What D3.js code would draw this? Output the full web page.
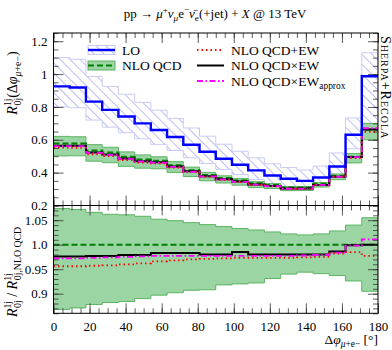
<!DOCTYPE html>
<html>
<head>
<meta charset="utf-8">
<script src="https://cdn.jsdelivr.net/npm/d3@7"></script>
<style>
  body { margin: 0; background: #fff; }
  text { font-family: "Liberation Serif", "DejaVu Serif", serif; fill: #000; }
</style>
</head>
<body>
<script>
// bin edges (degrees), 20 bins of 9 degrees
var edges = [0, 9, 18, 27, 36, 45, 54, 63, 72, 81, 90, 99, 108, 117, 126, 135, 144, 153, 162, 171, 180];

// LO and its scale band
var lo   = [0.925, 0.918, 0.832, 0.782, 0.742, 0.700, 0.660, 0.617, 0.570, 0.527, 0.485, 0.448, 0.414, 0.383, 0.363, 0.350, 0.370, 0.437, 0.631, 0.987];
var loHi = [1.100, 1.090, 0.985, 0.925, 0.877, 0.828, 0.780, 0.730, 0.672, 0.622, 0.573, 0.530, 0.490, 0.454, 0.431, 0.416, 0.440, 0.520, 0.733, 1.130];
var loLo = [0.800, 0.795, 0.720, 0.677, 0.643, 0.606, 0.572, 0.535, 0.490, 0.455, 0.420, 0.388, 0.358, 0.332, 0.314, 0.303, 0.320, 0.378, 0.545, 0.700];

// NLO QCD
var nlo = [0.578, 0.577, 0.535, 0.522, 0.496, 0.480, 0.472, 0.445, 0.415, 0.386, 0.367, 0.352, 0.335, 0.325, 0.309, 0.309, 0.332, 0.381, 0.496, 0.663];
// NLO QCD scale band, relative to NLO QCD
var nloHi = [1.074, 1.072, 1.066, 1.062, 1.061, 1.058, 1.052, 1.049, 1.045, 1.041, 1.037, 1.033, 1.030, 1.026, 1.022, 1.020, 1.022, 1.028, 1.040, 1.055];
var nloLo = [0.868, 0.871, 0.878, 0.882, 0.884, 0.890, 0.897, 0.902, 0.907, 0.908, 0.918, 0.920, 0.922, 0.931, 0.940, 0.944, 0.941, 0.937, 0.926, 0.905];

// ratios to NLO QCD
var rAdd    = [0.956, 0.956, 0.957, 0.958, 0.960, 0.962, 0.966, 0.968, 0.970, 0.971, 0.972, 0.973, 0.973, 0.973, 0.973, 0.974, 0.975, 0.982, 0.985, 0.977];
var rMul    = [0.976, 0.976, 0.977, 0.977, 0.979, 0.979, 0.983, 0.983, 0.983, 0.980, 0.980, 0.985, 0.980, 0.980, 0.980, 0.980, 0.980, 0.986, 0.999, 1.000];
var rApprox = [0.972, 0.972, 0.973, 0.974, 0.975, 0.976, 0.977, 0.977, 0.977, 0.977, 0.977, 0.977, 0.977, 0.977, 0.977, 0.978, 0.979, 0.984, 0.998, 1.011];

var xTicks = [0, 20, 40, 60, 80, 100, 120, 140, 160, 180];
var yTopTicks = [0.2, 0.4, 0.6, 0.8, 1.0, 1.2];
var yTopLabels = ["0.2", "0.4", "0.6", "0.8", "1", "1.2"];
var yBotTicks = [0.9, 0.95, 1.0, 1.05];
var yBotLabels = ["0.9", "0.95", "1.0", "1.05"];

var width = 392, height = 350;
var x0 = 53.5, x1 = 378;

var svg = d3.select("body").append("svg")
  .attr("width", width)
  .attr("height", height);

var x = d3.scaleLinear().domain([0, 180]).range([x0, x1]);
var yTop = d3.scaleLinear().domain([0.2, 1.25]).range([205.5, 33]);
var yBot = d3.scaleLinear().domain([0.86, 1.08]).range([313.3, 205.5]);

// step helpers
function steps(vals) {
  var pts = [];
  vals.forEach(function(v, i) { pts.push([edges[i], v]); pts.push([edges[i + 1], v]); });
  return pts;
}
function bandSteps(lo_, hi_) {
  var pts = [];
  lo_.forEach(function(v, i) {
    pts.push({ x: edges[i], a: v, b: hi_[i] });
    pts.push({ x: edges[i + 1], a: v, b: hi_[i] });
  });
  return pts;
}
function mult(a, b) { return a.map(function(v, i) { return v * b[i]; }); }

var defs = svg.append("defs");
var pat = defs.append("pattern")
  .attr("id", "hatch")
  .attr("patternUnits", "userSpaceOnUse")
  .attr("width", 7).attr("height", 7)
  .attr("patternTransform", "rotate(-45)");
pat.append("line")
  .attr("x1", 0).attr("y1", 0).attr("x2", 0).attr("y2", 7)
  .attr("stroke", "#a9aef0").attr("stroke-width", 1.6);

defs.append("clipPath").attr("id", "clipTop").append("rect")
  .attr("x", x0).attr("y", 33).attr("width", x1 - x0).attr("height", 205.5 - 33);
defs.append("clipPath").attr("id", "clipBot").append("rect")
  .attr("x", x0).attr("y", 205.5).attr("width", x1 - x0).attr("height", 313.3 - 205.5);

var bandFill = "#9bd5a3", bandStroke = "#5cb461";

// ---- upper panel ----
var gTop = svg.append("g").attr("clip-path", "url(#clipTop)");

function area(yS) {
  return d3.area().x(function(d) { return x(d.x); })
    .y0(function(d) { return yS(d.a); }).y1(function(d) { return yS(d.b); });
}
function line(yS) {
  return d3.line().x(function(d) { return x(d[0]); }).y(function(d) { return yS(d[1]); });
}

gTop.append("path")
  .attr("d", area(yTop)(bandSteps(loLo, loHi)))
  .attr("fill", "url(#hatch)")
  .attr("stroke", "#c9cbf6").attr("stroke-width", 1);

gTop.append("path")
  .attr("d", area(yTop)(bandSteps(mult(nlo, nloLo), mult(nlo, nloHi))))
  .attr("fill", bandFill)
  .attr("stroke", bandStroke).attr("stroke-width", 1);

var styles = {
  nlo:    { stroke: "#007f00", dash: "6,3", w: 2 },
  mul:    { stroke: "#000", dash: null, w: 2 },
  add:    { stroke: "#ff0000", dash: "1.5,3", w: 1.8 },
  approx: { stroke: "#ff00ff", dash: "6,2.5,1.5,2.5", w: 1.8 },
  lo:     { stroke: "#0000ff", dash: null, w: 2.4 }
};
function draw(g, yS, vals, st) {
  g.append("path")
    .attr("d", line(yS)(steps(vals)))
    .attr("fill", "none")
    .attr("stroke", st.stroke)
    .attr("stroke-width", st.w)
    .attr("stroke-dasharray", st.dash);
}
draw(gTop, yTop, nlo, styles.nlo);
draw(gTop, yTop, mult(nlo, rMul), styles.mul);
draw(gTop, yTop, mult(nlo, rAdd), styles.add);
draw(gTop, yTop, mult(nlo, rApprox), styles.approx);
draw(gTop, yTop, lo, styles.lo);

// ---- lower panel ----
var gBot = svg.append("g").attr("clip-path", "url(#clipBot)");
gBot.append("path")
  .attr("d", area(yBot)(bandSteps(nloLo, nloHi)))
  .attr("fill", bandFill)
  .attr("stroke", bandStroke).attr("stroke-width", 1);
draw(gBot, yBot, nlo.map(function() { return 1; }), styles.nlo);
draw(gBot, yBot, rMul, styles.mul);
draw(gBot, yBot, rAdd, styles.add);
draw(gBot, yBot, rApprox, styles.approx);

// ---- axes ----
var minorX = d3.range(0, 181, 5);
function frame(yS, yMin, yMax, minorY, majY, majLabels, showX) {
  var yA = yS(yMin), yB = yS(yMax);
  var g = svg.append("g");
  // left
  g.append("g").attr("transform", "translate(" + x0 + ",0)")
    .call(d3.axisLeft(yS).tickValues(minorY).tickSize(-5).tickFormat(""));
  g.append("g").attr("transform", "translate(" + x0 + ",0)")
    .call(d3.axisLeft(yS).tickValues(majY).tickSize(-10).tickPadding(6)
      .tickFormat(function(d, i) { return majLabels[i]; }));
  // right
  g.append("g").attr("transform", "translate(" + x1 + ",0)")
    .call(d3.axisRight(yS).tickValues(minorY).tickSize(-5).tickFormat(""));
  g.append("g").attr("transform", "translate(" + x1 + ",0)")
    .call(d3.axisRight(yS).tickValues(majY).tickSize(-10).tickFormat(""));
  // top and bottom
  g.append("g").attr("transform", "translate(0," + yB + ")")
    .call(d3.axisTop(x).tickValues(minorX).tickSize(-5).tickFormat(""));
  g.append("g").attr("transform", "translate(0," + yB + ")")
    .call(d3.axisTop(x).tickValues(xTicks).tickSize(-10).tickFormat(""));
  g.append("g").attr("transform", "translate(0," + yA + ")")
    .call(d3.axisBottom(x).tickValues(minorX).tickSize(-5).tickFormat(""));
  g.append("g").attr("transform", "translate(0," + yA + ")")
    .call(d3.axisBottom(x).tickValues(xTicks).tickSize(-10).tickPadding(8)
      .tickFormat(showX ? function(d) { return d; } : ""));
  g.selectAll(".domain").remove();
  g.selectAll(".tick line").attr("stroke", "#333").attr("stroke-width", 0.8);
  g.selectAll(".tick text").style("font-size", "13px").style("font-family", "Liberation Serif");
  g.append("rect").attr("x", x0).attr("y", yB).attr("width", x1 - x0).attr("height", yA - yB)
    .attr("fill", "none").attr("stroke", "#000").attr("stroke-width", 1);
}
frame(yTop, 0.2, 1.25, d3.range(0.2, 1.251, 0.05), yTopTicks, yTopLabels, false);
frame(yBot, 0.86, 1.08, d3.range(0.86, 1.0801, 0.01), yBotTicks, yBotLabels, true);

// ---- rich text helper ----
function rich(sel, parts, size) {
  var cur = 0;
  parts.forEach(function(p) {
    var small = p.sup || p.sub;
    var shift = p.sup ? -0.4 * size : p.sub ? 0.25 * size : 0;
    var ts = sel.append("tspan").text(p.t)
      .attr("dy", shift - cur)
      .style("font-size", (small ? size * 0.7 : size) + "px")
      .style("font-style", p.i ? "italic" : null);
    if (p.dx) ts.attr("dx", p.dx);
    cur = shift;
  });
}

// title
rich(svg.append("text").attr("x", 215).attr("y", 18).attr("text-anchor", "middle"), [
  { t: "pp → " }, { t: "μ", i: 1 }, { t: "+", sup: 1 }, { t: "ν", i: 1 }, { t: "μ", sub: 1, i: 1 },
  { t: "e" }, { t: "−", sup: 1 }, { t: "ν̄", i: 1 }, { t: "e", sub: 1 }, { t: "(+jet) + " },
  { t: "X", i: 1 }, { t: " @ 13 TeV" }
], 13);

// y labels
rich(svg.append("text").attr("transform", "translate(17,83) rotate(-90)").attr("text-anchor", "middle"), [
  { t: "R", i: 1 }, { t: "1j", sup: 1 }, { t: "0j", sub: 1, dx: -7 }, { t: "(Δ" }, { t: "φ", i: 1 },
  { t: "μ", sub: 1, i: 1 }, { t: "+", sub: 1 }, { t: "e", sub: 1 }, { t: "−", sub: 1 }, { t: ")" }
], 14);
rich(svg.append("text").attr("transform", "translate(17,272) rotate(-90)").attr("text-anchor", "middle"), [
  { t: "R", i: 1 }, { t: "1j", sup: 1 }, { t: "0j", sub: 1, dx: -7 }, { t: " / " },
  { t: "R", i: 1 }, { t: "1j", sup: 1 }, { t: "0j,NLO QCD", sub: 1, dx: -7 }
], 14);

// x label
rich(svg.append("text").attr("x", 378).attr("y", 344).attr("text-anchor", "end"), [
  { t: "Δ" }, { t: "φ", i: 1 }, { t: "μ", sub: 1, i: 1 }, { t: "+", sub: 1 }, { t: "e", sub: 1 }, { t: "−", sub: 1 },
  { t: " [°]" }
], 13.5);

// side label
svg.append("text")
  .attr("transform", "translate(381,36) rotate(90)")
  .style("font-size", "14px")
  .style("letter-spacing", "1px")
  .style("font-variant", "small-caps")
  .text("Sherpa+Recola");

// ---- legend ----
var leg = svg.append("g");
var legItems = [
  { col: 0, row: 0, st: styles.lo, box: "hatch", label: [{ t: "LO" }] },
  { col: 0, row: 1, st: styles.nlo, box: "band", label: [{ t: "NLO QCD" }] },
  { col: 1, row: 0, st: styles.add, label: [{ t: "NLO QCD+EW" }] },
  { col: 1, row: 1, st: styles.mul, label: [{ t: "NLO QCD×EW" }] },
  { col: 1, row: 2, st: styles.approx, label: [{ t: "NLO QCD×EW" }, { t: "approx", sub: 1 }] }
];
var colX = [88, 197], rowY = [50, 65.5, 81];
legItems.forEach(function(d) {
  var lx = colX[d.col], ly = rowY[d.row];
  if (d.box === "hatch") {
    leg.append("rect").attr("x", lx).attr("y", ly - 4.5).attr("width", 27).attr("height", 9)
      .attr("fill", "url(#hatch)").attr("stroke", "#c9cbf6");
  } else if (d.box === "band") {
    leg.append("rect").attr("x", lx).attr("y", ly - 4.5).attr("width", 27).attr("height", 9)
      .attr("fill", bandFill).attr("stroke", bandStroke);
  }
  leg.append("line").attr("x1", lx).attr("x2", lx + 27).attr("y1", ly).attr("y2", ly)
    .attr("stroke", d.st.stroke).attr("stroke-width", d.st.w).attr("stroke-dasharray", d.st.dash);
  rich(leg.append("text").attr("x", lx + 34).attr("y", ly + 4.5), d.label, 13.5);
});
</script>
</body>
</html>
